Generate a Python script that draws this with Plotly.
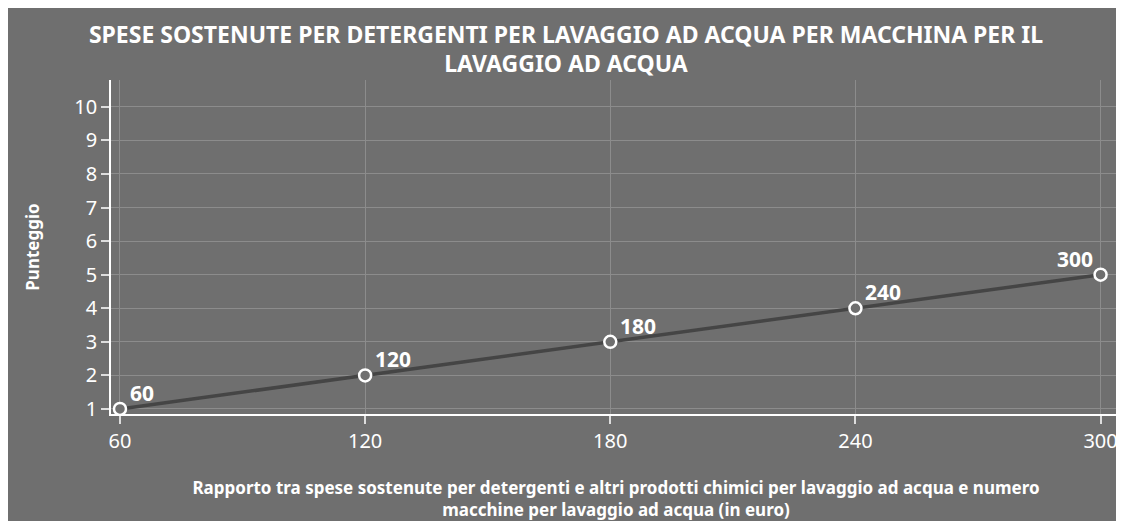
import plotly.graph_objects as go

x_vals = [60, 120, 180, 240, 300]
y_vals = [1, 2, 3, 4, 5]
labels = ["60", "120", "180", "240", "300"]
label_side = ["right", "right", "right", "right", "left"]
y_ticks = [1, 2, 3, 4, 5, 6, 7, 8, 9, 10]

title_text = ("SPESE SOSTENUTE PER DETERGENTI PER LAVAGGIO AD ACQUA PER MACCHINA PER IL<br>"
              "LAVAGGIO AD ACQUA")
x_title = ("Rapporto tra spese sostenute per detergenti e altri prodotti chimici per lavaggio ad acqua e numero<br>"
           "macchine per lavaggio ad acqua (in euro)")
y_title = "Punteggio"

BG = "#6f6f6f"
GRID = "#8c8c8c"
FONT = "Noto Sans"

W, H = 1124, 521

fig = go.Figure()
fig.add_trace(go.Scatter(
    x=x_vals, y=y_vals, mode="lines+markers",
    line=dict(color="#454545", width=3.5),
    marker=dict(symbol="circle", size=12, color=BG, line=dict(color="white", width=2.5)),
    cliponaxis=False, showlegend=False,
))

for xv, yv, lab, side in zip(x_vals, y_vals, labels, label_side):
    fig.add_annotation(
        x=xv, y=yv, text=lab, showarrow=False,
        xanchor="left" if side == "right" else "right",
        yanchor="middle",
        xshift=8 if side == "right" else -6, yshift=16,
        font=dict(family=FONT, size=21, color="white", weight="bold"),
    )

fig.update_layout(
    width=W, height=H,
    paper_bgcolor=BG, plot_bgcolor=BG,
    margin=dict(l=103, r=11, t=72, b=H - 406),
    font=dict(family=FONT, color="white"),
    title=dict(text=title_text, x=(566 - 8) / W, xanchor="center", y=1 - 34.5 / H, yanchor="middle",
               yref="container",
               font=dict(family=FONT, size=23, color="white", weight="bold")),
)
fig.update_xaxes(
    range=[57.8, 305], tickvals=x_vals, ticktext=[str(v) for v in x_vals],
    showgrid=True, gridcolor=GRID, gridwidth=1, zeroline=False,
    showline=True, linecolor="white", linewidth=1.5,
    ticks="outside", ticklen=8, tickcolor="#dddddd", tickwidth=1.5,
    tickfont=dict(family=FONT, size=20, color="white"),
    title=dict(text=x_title, font=dict(family=FONT, size=17, color="white", weight="bold"), standoff=29),
)
fig.update_yaxes(
    range=[0.85, 10.8], tickvals=y_ticks,
    showgrid=True, gridcolor=GRID, gridwidth=1, zeroline=False,
    showline=True, linecolor="white", linewidth=1.5,
    ticks="outside", ticklen=8, tickcolor="#dddddd", tickwidth=1.5,
    tickfont=dict(family=FONT, size=20, color="white"),
    title=dict(text=y_title, font=dict(family=FONT, size=17, color="white", weight="bold"), standoff=30),
)

fig.write_html("out.html")
